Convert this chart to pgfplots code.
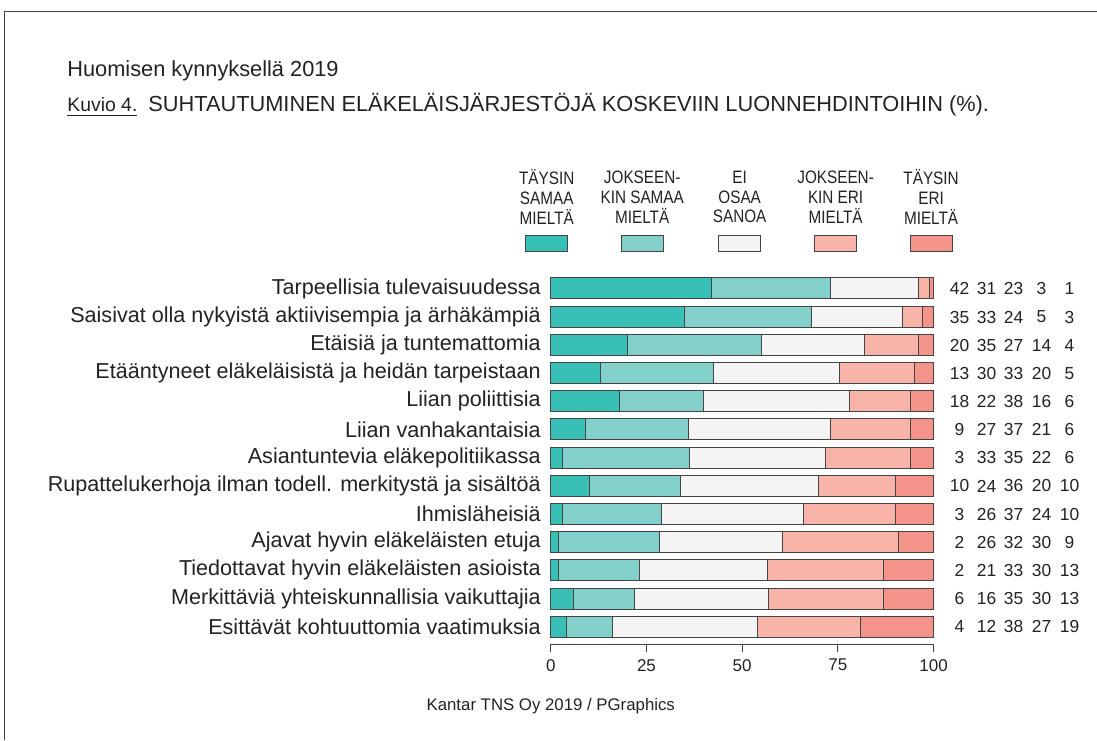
\documentclass[border=0pt]{standalone}
\usepackage{pgfplots}
\pgfplotsset{compat=1.18}
\usepackage{pgfplotstable}
\usepackage{fontspec}
\setmainfont{Liberation Sans}
\newfontfamily\narrow[FakeStretch=0.85]{Liberation Sans}

\definecolor{tA}{HTML}{38BFB6}
\definecolor{tB}{HTML}{83D0CB}
\definecolor{tC}{HTML}{F4F4F4}
\definecolor{tD}{HTML}{F8B4A8}
\definecolor{tE}{HTML}{F4938A}
\definecolor{edge}{HTML}{444444}
\definecolor{txt}{HTML}{222222}

% pos = 14 - row, so the first statement sits on top
\pgfplotstableread{
pos a b c d e
13 42 31 23 3 1
12 35 33 24 5 3
11 20 35 27 14 4
10 13 29.5 33 19.5 5
9 18 22 38 16 6
8 9 27 37 21 6
7 3 33.3 35.5 22.2 6
6 10 24 36 20 10
5 3 26 37 24 10
4 1.9 26.4 32.3 30.2 9.2
3 1.9 21.4 33.4 30.2 13.1
2 6 16 35 30 13
1 4 12 38 27 19
}\data

\begin{document}
\begin{tikzpicture}[x=0.5pt,y=0.5pt,text=txt]
\path (0,0) rectangle (1097,740);
\draw[edge,line width=0.5pt] (5,0) -- (5,728) -- (1097,728);
\coordinate (origin) at (551,95.5);

\node[inner sep=0pt,anchor=base west,font=\fontsize{10.9}{13}\selectfont] at (67,663) {Huomisen kynnyksellä 2019};
\node[inner sep=0pt,anchor=base west,font=\fontsize{9.7}{12}\selectfont] at (67,628) {\underline{Kuvio 4.}};
\node[inner sep=0pt,anchor=base west,font=\fontsize{10.9}{13}\selectfont] at (148,628) {SUHTAUTUMINEN ELÄKELÄISJÄRJESTÖJÄ KOSKEVIIN LUONNEHDINTOIHIN (\%).};

% legend
\foreach \cx/\col/\lab in {547/tA/{TÄYSIN\\SAMAA\\MIELTÄ},
  642.5/tB/{JOKSEEN-\\KIN SAMAA\\MIELTÄ},
  740/tC/{EI\\OSAA\\SANOA},
  836/tD/{JOKSEEN-\\KIN ERI\\MIELTÄ},
  931.5/tE/{TÄYSIN\\ERI\\MIELTÄ}}{
  \node[align=center,font=\fontsize{9}{10}\narrow] at (\cx,543) {\lab};
  \filldraw[fill=\col,draw=edge,line width=0.5pt] (\cx-21,488) rectangle (\cx+21,504);
}

\begin{axis}[
  at={(origin)}, anchor=south west,
  scale only axis, width=191.5pt, height=186.4pt,
  xbar stacked, bar width=10.5pt,
  xmin=0, xmax=100, ymin=0.38, ymax=13.6,
  axis x line=bottom, axis y line=left,
  x axis line style={-,draw=edge}, y axis line style={draw=none},
  xtick={0,25,50,75,100}, ytick={1,...,13},
  yticklabels={Esittävät kohtuuttomia vaatimuksia,
    Merkittäviä yhteiskunnallisia vaikuttajia,
    Tiedottavat hyvin eläkeläisten asioista,
    Ajavat hyvin eläkeläisten etuja,
    Ihmisläheisiä,
    Rupattelukerhoja ilman todell. merkitystä ja sisältöä,
    Asiantuntevia eläkepolitiikassa,
    Liian vanhakantaisia,
    Liian poliittisia,
    Etääntyneet eläkeläisistä ja heidän tarpeistaan,
    Etäisiä ja tuntemattomia,
    Saisivat olla nykyistä aktiivisempia ja ärhäkämpiä,
    Tarpeellisia tulevaisuudessa},
  tick align=outside, major tick length=4pt,
  ytick style={draw=none}, xtick style={draw=edge,line width=0.5pt},
  xticklabel style={font=\fontsize{8.5}{10}\selectfont,text=txt},
  yticklabel style={font=\fontsize{10.8}{13}\selectfont,text=txt,xshift=2.5pt},
  /pgf/number format/assume math mode=true,
  every axis plot/.append style={draw=edge,line width=0.5pt},
  clip=false,
]
\addplot[fill=tA] table[x=a,y=pos] {\data};
\addplot[fill=tB] table[x=b,y=pos] {\data};
\addplot[fill=tC] table[x=c,y=pos] {\data};
\addplot[fill=tD] table[x=d,y=pos] {\data};
\addplot[fill=tE] table[x=e,y=pos] {\data};
\end{axis}

% printed percentages at the right
\foreach \r/\va/\vb/\vc/\vd/\ve in {1/42/31/23/3/1, 2/35/33/24/5/3, 3/20/35/27/14/4,
  4/13/30/33/20/5, 5/18/22/38/16/6, 6/9/27/37/21/6, 7/3/33/35/22/6,
  8/10/24/36/20/10, 9/3/26/37/24/10, 10/2/26/32/30/9, 11/2/21/33/30/13,
  12/6/16/35/30/13, 13/4/12/38/27/19}{
  \pgfmathsetmacro{\yy}{740-289-(\r-1)*28.17}
  \foreach \xx/\v in {960/\va, 987/\vb, 1014/\vc, 1042/\vd, 1070/\ve}{
    \node[font=\fontsize{8.7}{10}\selectfont] at (\xx,\yy) {\v};
  }
}

\node[font=\fontsize{8.4}{10}\selectfont] at (551,34) {Kantar TNS Oy 2019 / PGraphics};
\end{tikzpicture}
\end{document}
